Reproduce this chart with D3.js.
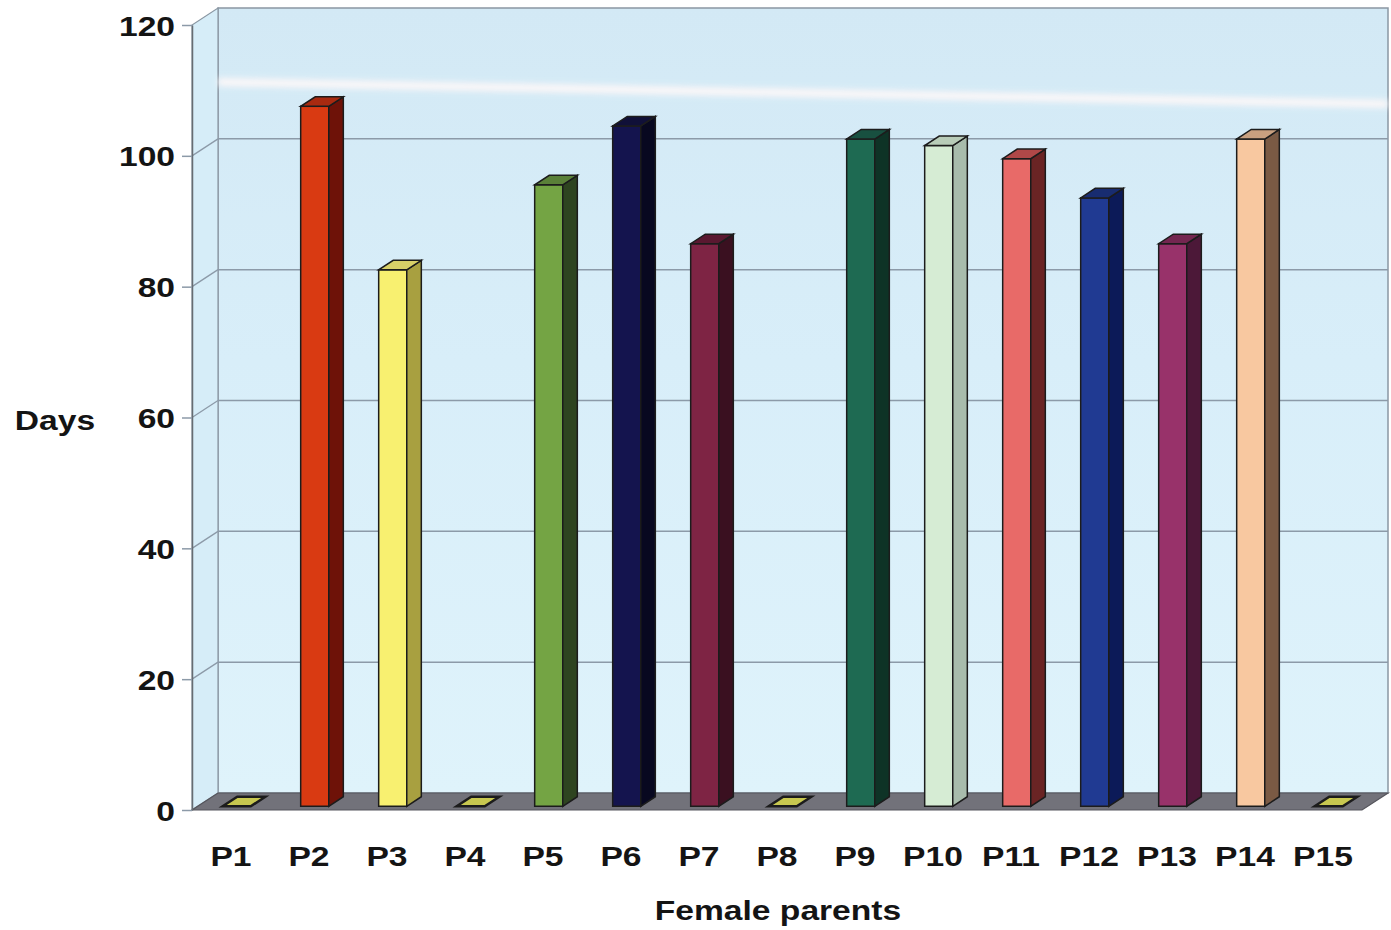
<!DOCTYPE html>
<html>
<head>
<meta charset="utf-8">
<script src="https://cdn.jsdelivr.net/npm/d3@7"></script>
<style>
  html, body { margin: 0; padding: 0; background: #ffffff; }
  svg { display: block; }
  .lbl { font-family: "Liberation Sans", Arial, Helvetica, sans-serif; font-weight: bold; fill: #141414; }
</style>
</head>
<body>
<svg id="chart" width="1391" height="930"></svg>
<script>
// Days per female parent
const categories = ["P1","P2","P3","P4","P5","P6","P7","P8","P9","P10","P11","P12","P13","P14","P15"];
const days       = [0, 107, 82, 0, 95, 104, 86, 0, 102, 101, 99, 93, 86, 102, 0];
const yTicks     = [0, 20, 40, 60, 80, 100, 120];

// face colours per bar: front, side, top
const frontColors = ["#c2c24e","#d93a12","#f8f070","#c2c24e","#74a444","#14144e","#7e2444","#c2c24e","#1e6a52","#d6ecd4","#e86a68","#203a92","#98326a","#f8c8a0","#c2c24e"];
const sideColors  = ["#6e6e2a","#6e1208","#a8a040","#6e6e2a","#2e4420","#080820","#3a1020","#6e6e2a","#0e3326","#a8bcac","#6a2424","#0c1a58","#4c1838","#7a5a44","#6e6e2a"];
const topColors   = ["#c8c850","#a82a10","#d8d068","#c8c850","#5a8038","#101038","#5a1830","#c8c850","#185040","#b8ccb8","#b04848","#182c70","#742650","#c8a080","#c8c850"];

const svg = d3.select("#chart");

// front plane of the 3D box and its depth offset
const pLeft = 192, pRight = 1362, pBottom = 810, pTop = 25;
const DX = 26, DY = -17;
const SX = 1.2; // horizontal stretch of the label font
const FS = 28;

const x = d3.scaleBand().domain(categories).range([pLeft, pRight]).paddingInner(0).paddingOuter(0);
const y = d3.scaleLinear().domain([0, 120]).range([pBottom, pTop]);

const defs = svg.append("defs");
const wallGrad = defs.append("linearGradient").attr("id", "wall").attr("x1", 0).attr("y1", 0).attr("x2", 0).attr("y2", 1);
wallGrad.append("stop").attr("offset", "0%").attr("stop-color", "#d3e9f5");
wallGrad.append("stop").attr("offset", "45%").attr("stop-color", "#d8eef9");
wallGrad.append("stop").attr("offset", "100%").attr("stop-color", "#dff3fb");
defs.append("filter").attr("id", "soft").attr("x", "-5%").attr("y", "-200%").attr("width", "110%").attr("height", "500%")
  .append("feGaussianBlur").attr("stdDeviation", 3);

const pts = a => a.map(p => p.join(",")).join(" ");

// back wall
svg.append("rect")
  .attr("x", pLeft + DX).attr("y", pTop + DY)
  .attr("width", pRight - pLeft).attr("height", pBottom - pTop)
  .attr("fill", "url(#wall)").attr("stroke", "#8a97a3").attr("stroke-width", 1.5);

// left side wall
svg.append("polygon")
  .attr("points", pts([[pLeft, pBottom], [pLeft, pTop], [pLeft + DX, pTop + DY], [pLeft + DX, pBottom + DY]]))
  .attr("fill", "#d6edf8").attr("stroke", "#8a97a3").attr("stroke-width", 1.2);

// light streak across the wall
svg.append("line")
  .attr("x1", pLeft + DX).attr("y1", 82).attr("x2", pRight + DX).attr("y2", 104)
  .attr("stroke", "#fff8f8").attr("stroke-width", 8).attr("opacity", 0.95)
  .attr("filter", "url(#soft)");

// gridlines on back and side walls
const grid = svg.append("g");
yTicks.filter(v => v > 0 && v < 120).forEach(v => {
  grid.append("line")
    .attr("x1", pLeft + DX).attr("x2", pRight + DX)
    .attr("y1", y(v) + DY).attr("y2", y(v) + DY)
    .attr("stroke", "#8c9aa8").attr("stroke-width", 1.5);
  grid.append("line")
    .attr("x1", pLeft).attr("x2", pLeft + DX)
    .attr("y1", y(v)).attr("y2", y(v) + DY)
    .attr("stroke", "#8c9aa8").attr("stroke-width", 1.3);
});

// floor
svg.append("polygon")
  .attr("points", pts([[pLeft, pBottom], [pRight, pBottom], [pRight + DX, pBottom + DY], [pLeft + DX, pBottom + DY]]))
  .attr("fill", "#72727a").attr("stroke", "#55555c").attr("stroke-width", 1.2);

// bars
const f0 = 0.22, f1 = 0.78;
const bw = x.bandwidth() * 0.36;
const ddx = (f1 - f0) * DX, ddy = (f1 - f0) * DY;

const bars = svg.append("g").selectAll("g").data(categories).join("g");
bars.each(function (c, i) {
  const g = d3.select(this);
  const v = days[i];
  const xl = x(c) + x.bandwidth() / 2 - bw / 2 + f0 * DX;
  const xr = xl + bw;
  const yb = y(0) + f0 * DY;
  const yt = y(v) + f0 * DY;
  if (v > 0) {
    g.append("rect")
      .attr("x", xl).attr("y", yt).attr("width", bw).attr("height", yb - yt)
      .attr("fill", frontColors[i]).attr("stroke", "#1c1c1c").attr("stroke-width", 1.5);
    g.append("polygon")
      .attr("points", pts([[xr, yt], [xr + ddx, yt + ddy], [xr + ddx, yb + ddy], [xr, yb]]))
      .attr("fill", sideColors[i]).attr("stroke", "#1c1c1c").attr("stroke-width", 1.5);
  }
  g.append("polygon")
    .attr("points", pts([[xl, yt], [xr, yt], [xr + ddx, yt + ddy], [xl + ddx, yt + ddy]]))
    .attr("fill", topColors[i]).attr("stroke", "#1c1c1c").attr("stroke-width", v > 0 ? 1.5 : 2.5);
});

// y axis on the front edge
const yAxis = svg.append("g")
  .attr("transform", `translate(${pLeft},0)`)
  .call(d3.axisLeft(y).tickValues(yTicks).tickSizeInner(10).tickSizeOuter(0).tickPadding(0));
yAxis.select(".domain").attr("stroke", "#666c72").attr("stroke-width", 1.5);
yAxis.selectAll(".tick line").attr("stroke", "#8c9aa8").attr("stroke-width", 1.5);
yAxis.selectAll(".tick text")
  .attr("class", "lbl")
  .attr("font-size", FS)
  .attr("x", -17 / SX)
  .attr("dy", "0.36em")
  .attr("transform", `scale(${SX},1)`);

// category labels
const xAxis = svg.append("g")
  .attr("transform", `translate(0,${pBottom})`)
  .call(d3.axisBottom(x).tickSize(0).tickPadding(0));
xAxis.select(".domain").remove();
xAxis.selectAll(".tick text")
  .attr("class", "lbl")
  .attr("font-size", FS)
  .attr("y", 56)
  .attr("dy", 0)
  .attr("transform", `scale(${SX},1)`);

// axis titles
svg.append("text").attr("class", "lbl").attr("font-size", FS)
  .attr("text-anchor", "middle")
  .attr("transform", `translate(55,430) scale(${SX},1)`)
  .text("Days");
svg.append("text").attr("class", "lbl").attr("font-size", FS)
  .attr("text-anchor", "middle")
  .attr("transform", `translate(778,920) scale(${SX},1)`)
  .text("Female parents");
</script>
</body>
</html>
